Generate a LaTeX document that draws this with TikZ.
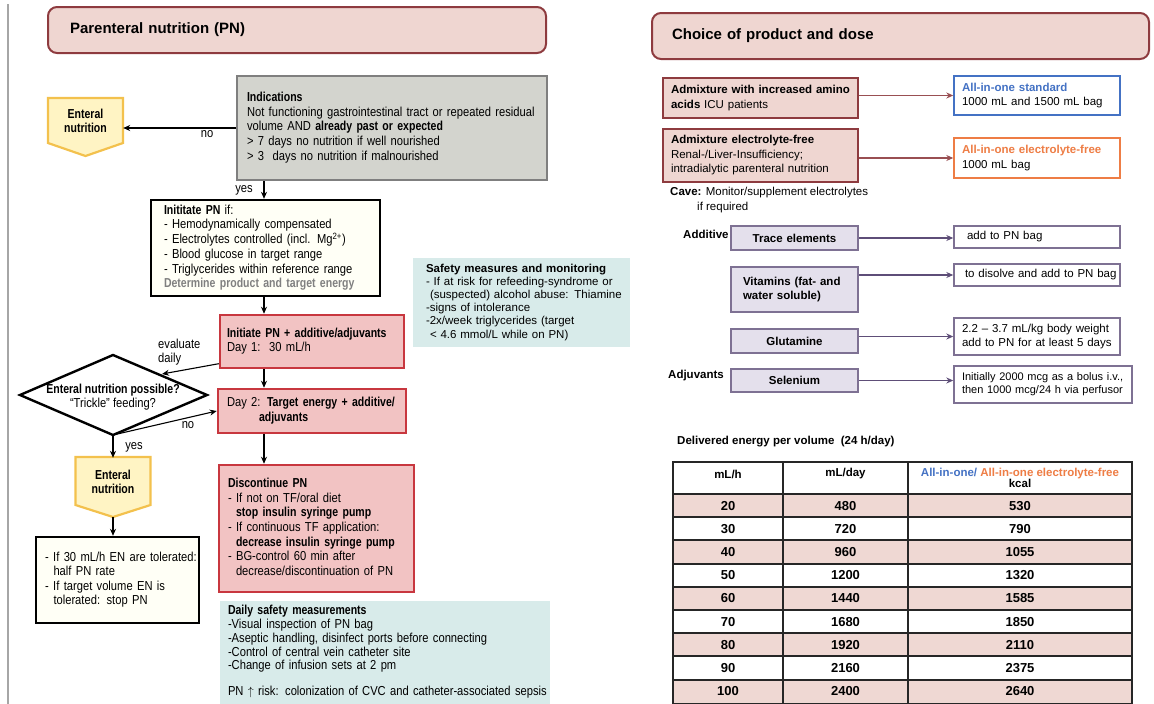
\documentclass[tikz,border=0pt]{standalone}
\usepackage{fontspec}
\setmainfont{Liberation Sans}
\newfontfamily\narrowfont[FakeStretch=0.86,BoldFeatures={FakeStretch=0.81}]{Liberation Sans}
\usepackage{xcolor}
\usepackage{tikz}
\usetikzlibrary{arrows.meta,calc,positioning}

\definecolor{pnpink}{HTML}{EFD6D1}
\definecolor{pnred}{HTML}{8E3B3F}
\definecolor{boxred}{HTML}{F2C3C3}
\definecolor{edgered}{HTML}{C8373F}
\definecolor{indgray}{HTML}{D3D4CE}
\definecolor{indedge}{HTML}{7F7F7F}
\definecolor{entfill}{HTML}{FFF4C4}
\definecolor{entedge}{HTML}{F3C14D}
\definecolor{safeteal}{HTML}{D8EBEA}
\definecolor{cream}{HTML}{FFFFF6}
\definecolor{lav}{HTML}{E4E0EC}
\definecolor{lavedge}{HTML}{5E4E78}
\definecolor{stdblue}{HTML}{4472C4}
\definecolor{freeorange}{HTML}{EE7D45}
\definecolor{rowpink}{HTML}{EFD8D3}

% lines of a box, never wrapped
\newcommand{\boxlines}[1]{\noindent\begin{tabular}{@{}l@{}}#1\end{tabular}}

\begin{document}
\begin{tikzpicture}[x=1pt,y=-1pt,
  flowtxt/.style={font=\narrowfont\fontsize{13}{14.6}\selectfont},
  righttxt/.style={font=\fontsize{11.5}{14.5}\selectfont},
  sz/.style n args={3}{minimum width=#1pt,minimum height=#2pt,text width=#3pt},
  titlebox/.style={draw=pnred,fill=pnpink,line width=2pt,rounded corners=9pt,inner sep=0pt,align=left,
    font=\bfseries\fontsize{15}{18}\selectfont},
  redbox/.style={draw=edgered,fill=boxred,line width=2.5pt,inner sep=0pt,align=left,flowtxt},
  blackbox/.style={draw=black,fill=cream,line width=2.4pt,inner sep=0pt,align=left,flowtxt},
  tealbox/.style={fill=safeteal,inner sep=0pt,align=left},
  admixbox/.style={draw=pnred,fill=pnpink,line width=2.2pt,inner sep=0pt,align=left,righttxt},
  lavbox/.style={draw=lavedge!80,fill=lav,line width=2pt,inner sep=0pt,font=\bfseries\fontsize{11.5}{14.5}\selectfont},
  outbox/.style={draw=lavedge!80,fill=white,line width=1.4pt,inner sep=0pt,align=left,righttxt},
  entshape/.style={fill=entfill,draw=entedge,line width=2.2pt},
  enttxt/.style={font=\narrowfont\bfseries\fontsize{13}{14.6}\selectfont,align=center,inner sep=0pt},
  lbl/.style={flowtxt,inner sep=0pt},
  flow/.style={-{Stealth[length=7pt,width=6pt]},line width=1.1pt},
  redarr/.style={-{Stealth[length=7pt,width=6pt]},line width=1.2pt,draw=pnred!90},
  lavarr/.style={-{Stealth[length=7pt,width=6pt]},line width=1.2pt,draw=lavedge},
  cell/.style={font=\bfseries\fontsize{13}{15}\selectfont,inner sep=0pt}]
\useasboundingbox (0,0) rectangle (1154,704);

% left margin rule
\draw[gray!70,line width=1.2pt] (8,4) -- (8,704);

% ---------- parenteral nutrition flow ----------
\node[titlebox,sz={498}{46}{454}] (pntitle) at (297,30) {Parenteral nutrition (PN)};

\node[draw=indedge,fill=indgray,line width=2.6pt,inner sep=0pt,align=left,flowtxt,sz={310}{104}{290}] (indic) at (392,128)
  {\boxlines{\textbf{Indications}\\
   Not functioning gastrointestinal tract or repeated residual\\
   volume AND \textbf{already past or expected}\\
   > 7 days no nutrition if well nourished\\
   > 3\ \ days no nutrition if malnourished}};

\draw[entshape] (48,98) -- (123,98) -- (123,143) -- (85.5,156) -- (48,143) -- cycle;
\node[enttxt,minimum width=75pt,minimum height=45pt] (ent1) at (85.5,121) {Enteral\\nutrition};

\node[blackbox,sz={229}{96}{203}] (init) at (265.5,248)
  {\boxlines{\textbf{Inititate PN} if:\\
   - Hemodynamically compensated\\
   - Electrolytes controlled (incl. Mg\textsuperscript{2+})\\
   - Blood glucose in target range\\
   - Triglycerides within reference range\\
   \textcolor{gray}{\textbf{Determine product and target energy}}}};

\node[redbox,sz={184}{53}{170}] (pnday1) at (312,341.5)
  {\boxlines{\textbf{Initiate PN + additive/adjuvants}\\Day 1:\ \ 30 mL/h}};

% decision diamond
\draw[fill=white,line width=2.4pt,line join=miter] (20,395) -- (113,355) -- (207,395) -- (113,435) -- cycle;
\coordinate (diam-ne) at (162,374);
\coordinate (diam-s) at (113,435);
\node[flowtxt,align=center,inner sep=0pt] (diam) at (113,397)
  {\textbf{Enteral nutrition possible?}\\“Trickle” feeding?};

\node[redbox,sz={188}{44}{170}] (pnday2) at (312,411)
  {\boxlines{Day 2: \textbf{Target energy + additive/}\\\hspace*{32pt}\textbf{adjuvants}}};

\node[redbox,sz={195}{127}{177}] (discon) at (316.5,528.5)
  {\boxlines{\textbf{Discontinue PN}\\
   - If not on TF/oral diet\\
   \hspace*{8pt}\textbf{stop insulin syringe pump}\\
   - If continuous TF application:\\
   \hspace*{8pt}\textbf{decrease insulin syringe pump}\\
   - BG-control 60 min after\\
   \hspace*{8pt}decrease/discontinuation of PN}};

\draw[entshape] (75.5,457) -- (150.5,457) -- (150.5,505) -- (113,517) -- (75.5,505) -- cycle;
\node[enttxt,minimum width=75pt,minimum height=48pt] (ent2) at (113,482) {Enteral\\nutrition};
\coordinate (ent2tip) at (113,517);

\node[blackbox,sz={163}{86}{145}] (enbox) at (117.5,580)
  {\boxlines{-\hspace{4.5pt}If 30 mL/h EN are tolerated:\\
   \hspace*{8.5pt}half PN rate\\
   -\hspace{4.5pt}If target volume EN is\\
   \hspace*{8.5pt}tolerated: stop PN}};

\node[tealbox,sz={217}{89}{191},font=\fontsize{11.5}{13.2}\selectfont] (safety) at (521.5,302.5)
  {\boxlines{\textbf{Safety measures and monitoring}\\
   - If at risk for refeeding-syndrome or\\
   \hspace*{4pt}(suspected) alcohol abuse: Thiamine\\
   -signs of intolerance\\
   -2x/week triglycerides (target\\
   \hspace*{4pt}< 4.6 mmol/L while on PN)}};

\node[tealbox,sz={330}{103}{314},font=\narrowfont\fontsize{13}{13.7}\selectfont] (daily) at (385,652.5)
  {\boxlines{\textbf{Daily safety measurements}\\
   -Visual inspection of PN bag\\
   -Aseptic handling, disinfect ports before connecting\\
   -Control of central vein catheter site\\
   -Change of infusion sets at 2 pm\\[12pt]
   PN $\uparrow$ risk: colonization of CVC and catheter-associated sepsis}};

% connectors of the flow
\coordinate (axis) at (264,0);
\draw[flow] (indic.west) -- (indic.west -| ent1.east);
\node[lbl] (lblno1) at (207,134) {no};
\draw[flow] (indic.south -| axis) -- (init.north -| axis);
\node[lbl] (lblyes1) at (244,190) {yes};
\draw[flow] (init.south -| axis) -- (pnday1.north -| axis);
\draw[flow] ($(pnday1.south west)!0.1!(pnday1.north west)$) -- (diam-ne);
\node[lbl,align=left,anchor=west] (lbleval) at (158,352) {evaluate\\daily};
\draw[flow] (pnday1.south -| axis) -- (pnday2.north -| axis);
\draw[flow] (diam-s) -- (pnday2.west);
\node[lbl] (lblno2) at (188,425) {no};
\draw[flow] (pnday2.south -| axis) -- (discon.north -| axis);
\draw[flow] (diam-s) -- (ent2.north);
\node[lbl] (lblyes2) at (134,447) {yes};
\draw[flow] (ent2tip) -- (ent2tip |- enbox.north);

% ---------- choice of product and dose ----------
\node[titlebox,sz={497}{46}{457}] (choice) at (900.5,36) {Choice of product and dose};

\node[admixbox,sz={195}{40}{179}] (amino) at (760.5,98)
  {\boxlines{\textbf{Admixture with increased amino}\\\textbf{acids} ICU patients}};
\node[outbox,draw=stdblue,sz={166}{39}{150}] (std) at (1037,95.5)
  {\boxlines{\textcolor{stdblue}{\textbf{All-in-one standard}}\\1000 mL and 1500 mL bag}};
\draw[redarr] (std.west -| amino.east) -- (std.west);

\node[admixbox,sz={195}{53}{179}] (admix2) at (760.5,155.5)
  {\boxlines{\textbf{Admixture electrolyte-free}\\Renal-/Liver-Insufficiency;\\intradialytic parenteral nutrition}};
\node[outbox,draw=freeorange,sz={166}{40}{150}] (efree) at (1037,158)
  {\boxlines{\textcolor{freeorange}{\textbf{All-in-one electrolyte-free}}\\1000 mL bag}};
\draw[redarr] (efree.west -| admix2.east) -- (efree.west);

\node[righttxt,inner sep=0pt,align=left,anchor=west] (cave) at (670,200)
  {\textbf{Cave:} Monitor/supplement electrolytes\\\hspace*{27pt}if required};

\node[inner sep=0pt,anchor=west,font=\bfseries\fontsize{11.5}{14.5}\selectfont] (additive) at (683,234) {Additive};
\node[lavbox,sz={127}{24}{127},align=center] (trace) at (794.5,238) {Trace elements};
\node[outbox,sz={166}{22}{140}] (addbag) at (1037,237) {\boxlines{add to PN bag}};
\draw[lavarr] (trace.east) -- (trace.east -| addbag.west);

\node[lavbox,sz={127}{45}{103},align=left] (vit) at (794.5,289.5) {\boxlines{Vitamins (fat- and\\water soluble)}};
\node[outbox,sz={166}{22}{144}] (disolve) at (1037,275) {\boxlines{to disolve and add to PN bag}};
\draw[lavarr] (disolve.west -| vit.east) -- (disolve.west);

\node[lavbox,sz={127}{24}{127},align=center] (glut) at (794.5,341) {Glutamine};
\node[outbox,sz={166}{37}{150}] (glutbox) at (1037,336.5)
  {\boxlines{2.2 -- 3.7 mL/kg body weight\\add to PN for at least 5 days}};
\draw[lavarr] (glutbox.west -| glut.east) -- (glutbox.west);

\node[inner sep=0pt,anchor=west,font=\bfseries\fontsize{11.5}{14.5}\selectfont] (adjuv) at (668,376) {Adjuvants};
\node[lavbox,sz={127}{23}{127},align=center] (sel) at (794.5,380.5) {Selenium};
\node[outbox,sz={178}{37}{162},font=\fontsize{11}{13.2}\selectfont] (selbox) at (1043,384.5)
  {\boxlines{Initially 2000 mcg as a bolus i.v.,\\then 1000 mcg/24 h via perfusor}};
\draw[lavarr] (sel.east) -- (sel.east -| selbox.west);

% ---------- energy table ----------
\node[inner sep=0pt,anchor=west,font=\bfseries\fontsize{11.5}{14}\selectfont] (tabtitle) at (677,442)
  {Delivered energy per volume\ \ (24 h/day)};
\fill[white] (673,462) rectangle (1132,494);
\foreach \a/\b/\c [count=\i] in {20/480/530,30/720/790,40/960/1055,50/1200/1320,60/1440/1585,
  70/1680/1850,80/1920/2110,90/2160/2375,100/2400/2640}{
  \pgfmathsetmacro\ytop{494+23.2*(\i-1)}
  \pgfmathsetmacro\ymid{\ytop+11.6}
  \ifodd\i\relax
    \fill[rowpink] (673,\ytop) rectangle (1132,\ytop+23.2);
  \fi
  \node[cell] (val-\i-a) at (728,\ymid) {\a};
  \node[cell] (val-\i-b) at (845.5,\ymid) {\b};
  \node[cell] (val-\i-c) at (1020,\ymid) {\c};
  \draw[black!85,line width=2pt] (673,\ytop) -- (1132,\ytop);
}
\draw[black!85,line width=2pt] (673,462) rectangle (1132,704);
\foreach \xc in {783,908}
  \draw[black!85,line width=2pt] (\xc,462) -- (\xc,704);
\node[cell,font=\bfseries\fontsize{11.5}{13}\selectfont] (head-a) at (728,474) {mL/h};
\node[cell,font=\bfseries\fontsize{11.5}{13}\selectfont] (head-b) at (845.5,474) {mL/day};
\node[cell,font=\bfseries\fontsize{11.5}{10}\selectfont,align=center] (head-c) at (1020,478)
  {\textcolor{stdblue}{All-in-one/} \textcolor{freeorange}{All-in-one electrolyte-free}\\kcal};
\end{tikzpicture}
\end{document}
